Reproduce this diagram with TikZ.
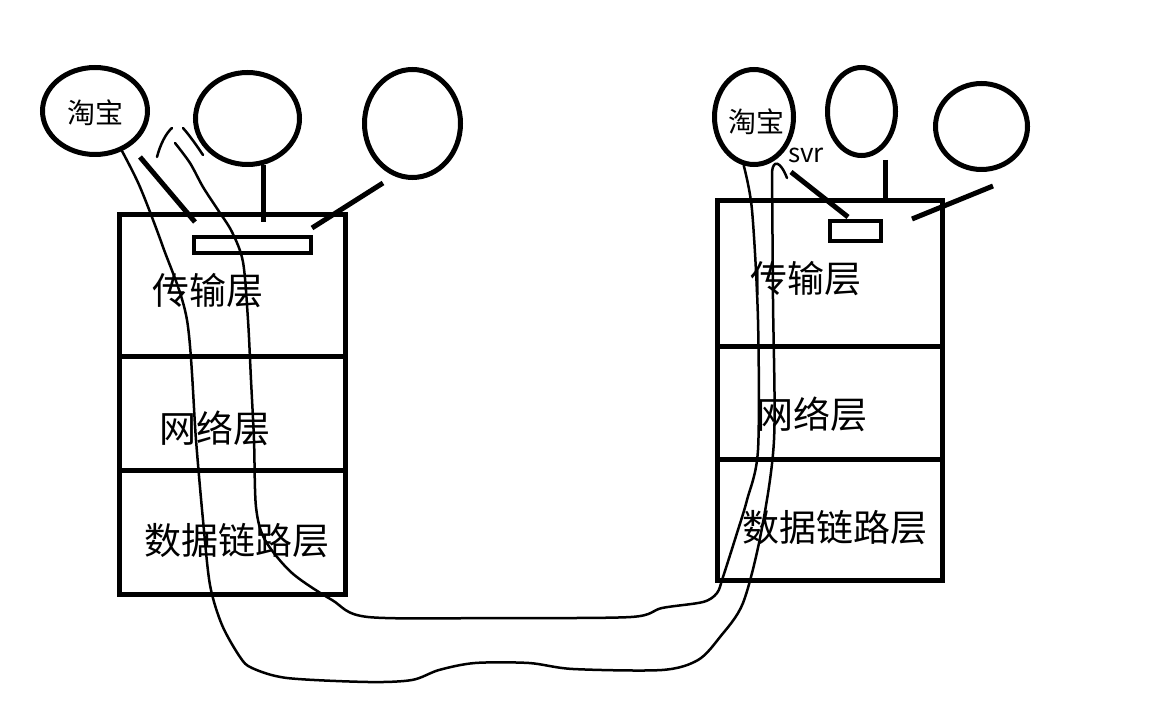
\documentclass[tikz,border=0pt]{standalone}
\usepackage{fontspec}
\setmainfont{Noto Sans CJK SC}
\usetikzlibrary{shapes.geometric}
\tikzset{
  lay/.style={draw,line width=5pt,inner sep=0pt},
  sock/.style={draw,line width=4pt,inner sep=0pt},
  ball/.style={ellipse,draw,line width=5pt,inner sep=0pt},
  stick/.style={line width=5pt},
  wire/.style={line width=2.5pt,line join=round,line cap=round},
  lbl/.style={inner sep=0pt,font=\fontsize{37}{40}\selectfont},
  tag/.style={inner sep=0pt,font=\fontsize{28}{30}\selectfont}
}
\newcommand{\lay}[5]{\node[lay,minimum width=#3pt,minimum height=#4pt] (#5) at (#1,#2) {};}
\newcommand{\ball}[5]{\node[ball,minimum width=#3pt,minimum height=#4pt] (#5) at (#1,#2) {};}

\begin{document}
\begin{tikzpicture}[x=1pt,y=-1pt]
\fill[white] (0,0) rectangle (1154,708);
% left host
\lay{232.5}{285.75}{226}{142.5}{lt} \node[lbl] (ltl) at (208,291) {传输层};
\lay{232.5}{413.5}{226}{113}{ln} \node[lbl] (lnl) at (215,428) {网络层};
\lay{232.5}{532.25}{226}{124.5}{ld} \node[lbl] (ldl) at (237,541) {数据链路层};
\node[sock,minimum width=117pt,minimum height=16pt] (ls) at (252.5,245) {};
\ball{95}{111}{105}{87}{lc1} \node[tag] (lc1t) at (95,113) {淘宝};
\ball{247.5}{118.5}{104}{92}{lc2}
\ball{412.5}{123.5}{96}{108}{lc3}
\coordinate (la1) at (140,157); \coordinate (lb1) at (195,222); \draw[stick] (la1) -- (lb1);
\coordinate (la2) at (263,165); \coordinate (lb2) at (263,222); \draw[stick] (la2) -- (lb2);
\coordinate (la3) at (383,183); \coordinate (lb3) at (312,228); \draw[stick] (la3) -- (lb3);
% right host
\lay{830}{273.75}{225}{146.5}{rt} \node[lbl] (rtl) at (806,279) {传输层};
\lay{830}{403}{225}{112}{rn} \node[lbl] (rnl) at (812,414) {网络层};
\lay{830}{519.75}{225}{121.5}{rd} \node[lbl] (rdl) at (835,528) {数据链路层};
\node[sock,minimum width=51pt,minimum height=20pt] (rs) at (855.5,231) {};
\ball{754}{117}{79}{95}{rc1} \node[tag] (rc1t) at (756,122) {淘宝};
\ball{861.5}{111.5}{68}{88}{rc2}
\ball{981.5}{126.5}{92}{86}{rc3}
\node[inner sep=0pt,font=\fontsize{26}{28}\selectfont] (svr) at (806,155) {svr};
\coordinate (ra1) at (791,172); \coordinate (rb1) at (848,217); \draw[stick] (ra1) -- (rb1);
\coordinate (ra2) at (885,160); \coordinate (rb2) at (885,203); \draw[stick] (ra2) -- (rb2);
\coordinate (ra3) at (993,186); \coordinate (rb3) at (912,219); \draw[stick] (ra3) -- (rb3);
% the two paths
\coordinate (out1) at (772,172); \coordinate (in0) at (175,143);
\draw[wire] plot[smooth,tension=0.5] coordinates {(lc1.-56) (140,187) (163,247) (187,320) (196,440) (203,520) (210,585) (222,625) (240,657) (252,668) (287,678) (368,682) (412,680) (439,670) (475,663) (529,663) (573,669) (662,670) (698,660) (720,637) (743,603) (761,533) (774,440) (773,300) (out1)}
  .. controls (773,160) and (780,160) .. (787,178);
\draw[wire] plot[smooth,tension=0.5] coordinates {(in0) (190,163) (203,187) (218,210) (232,232) (243,262) (248,320) (251,380) (254,440) (256,507) (265,540) (292,573) (332,600) (368,617) (500,618) (631,617) (662,608) (703,602) (717,593) (723,577) (737,533) (747,500) (758,450) (758,320) (752,210) (rc1.-102)};
\draw[wire] (157,157) .. controls (160,145) and (166,133) .. (172,128);
\draw[wire] (183,128) .. controls (190,136) and (197,146) .. (203,155);
\end{tikzpicture}
\end{document}
